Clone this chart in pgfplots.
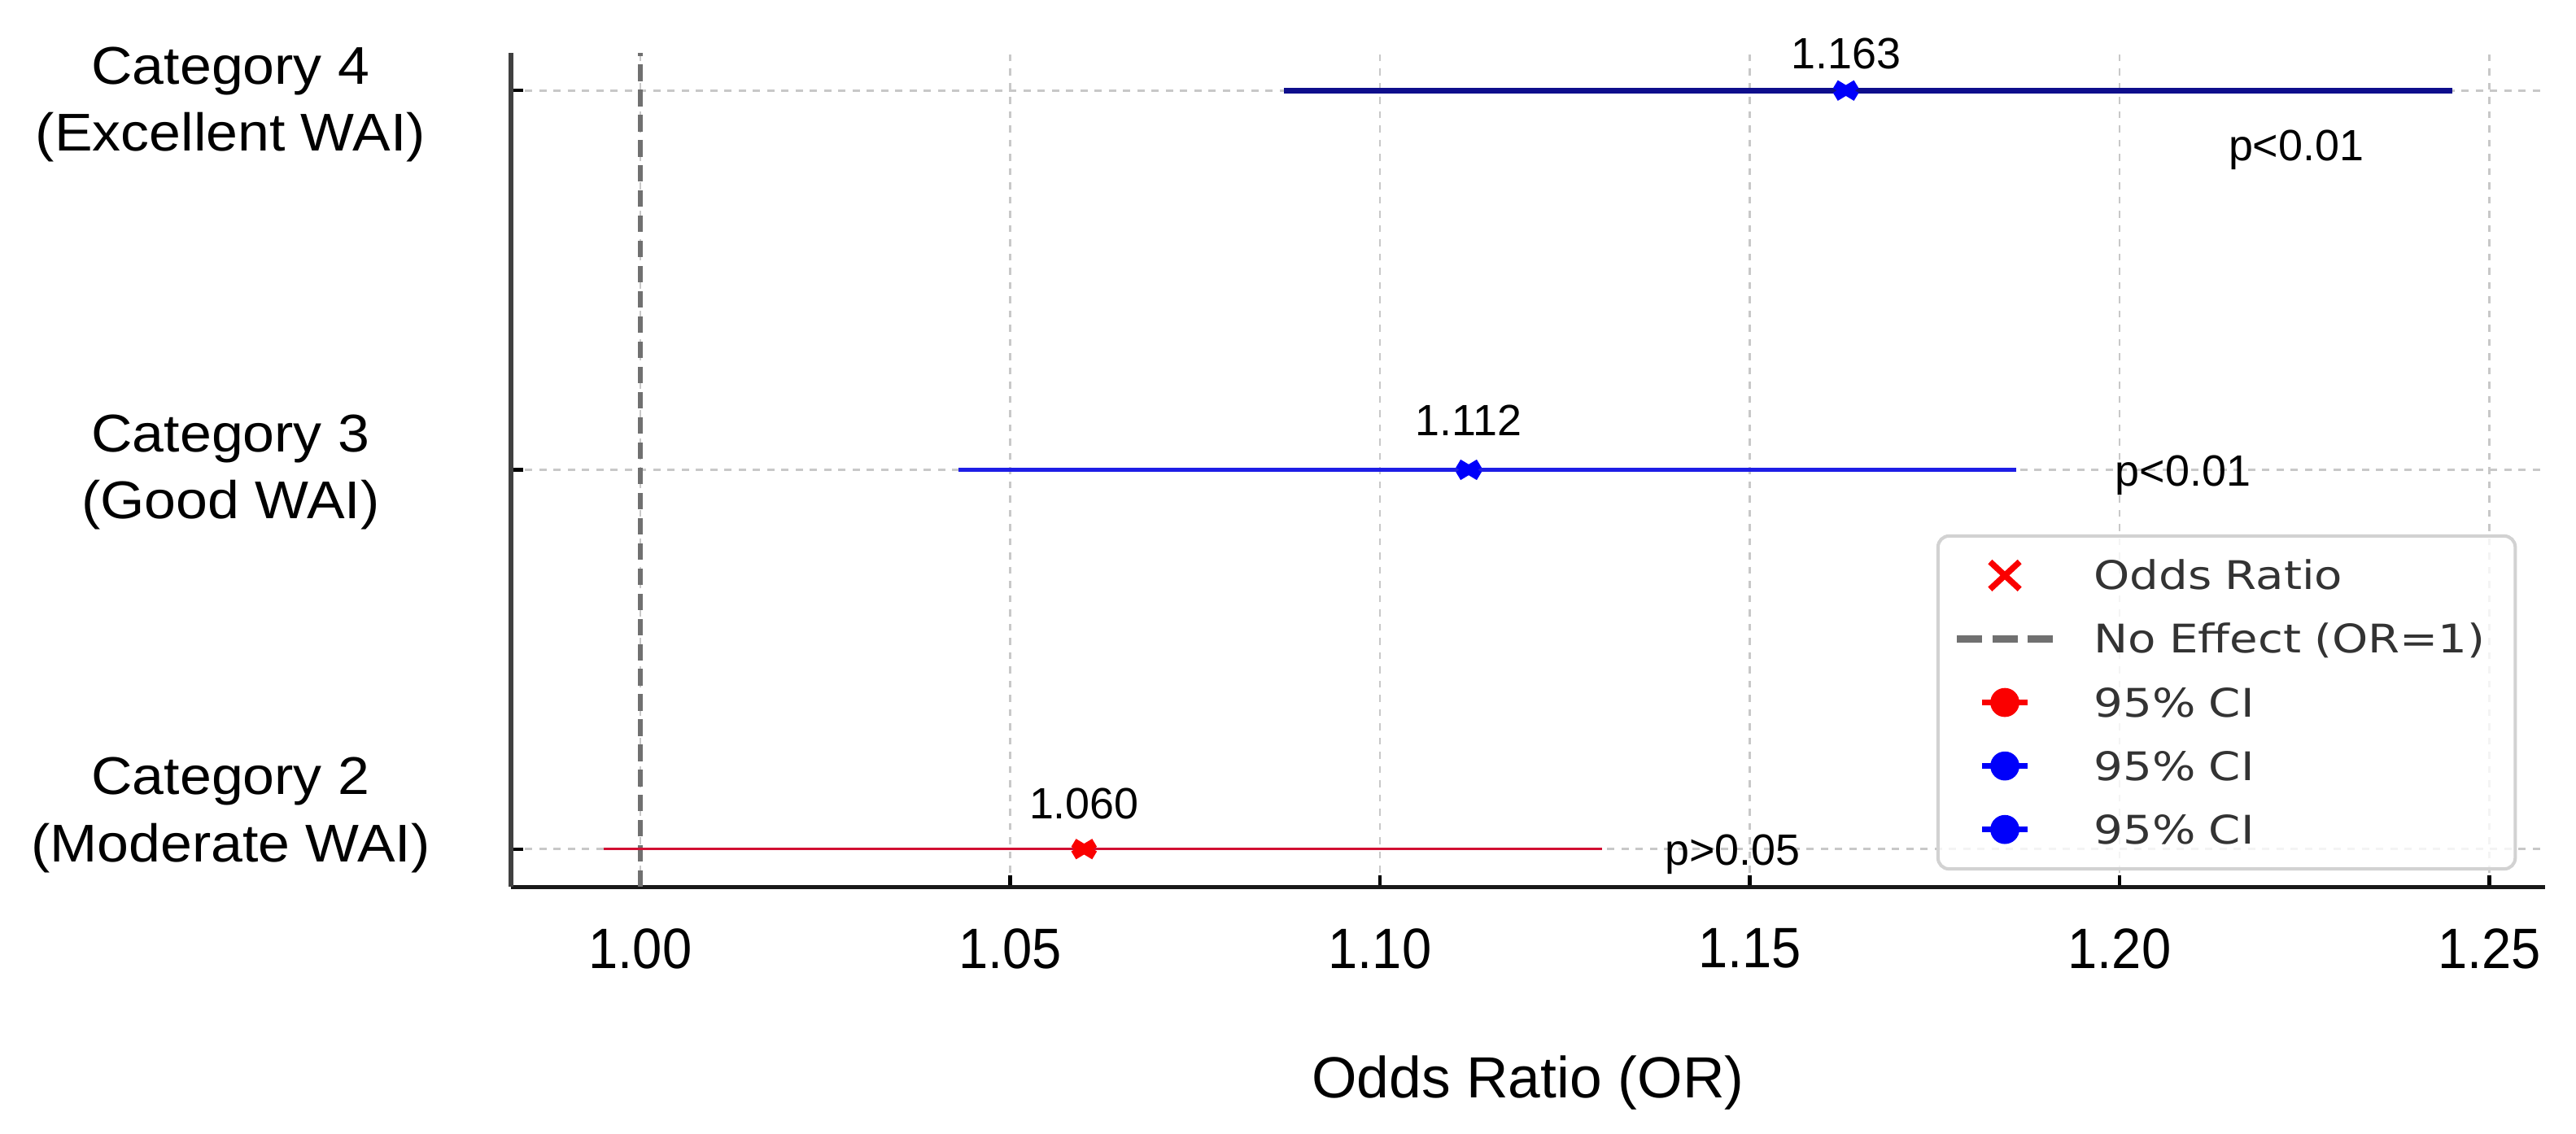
\documentclass[border=0pt]{standalone}
\usepackage{fontspec}
\setmainfont{Liberation Sans}
\newfontfamily\catfont[FakeStretch=1.07]{Liberation Sans}
\newfontfamily\legfont[FakeStretch=1.16]{DejaVu Sans}
\newfontfamily\tickfont[FakeStretch=0.93]{Liberation Sans}
\usepackage{pgfplots}
\pgfplotsset{compat=1.18}
\definecolor{cired}{RGB}{210,15,50}
\definecolor{ciblue}{RGB}{30,30,230}
\definecolor{cinavy}{RGB}{14,14,140}
\definecolor{mkred}{RGB}{250,0,0}
\definecolor{mkblue}{RGB}{0,0,250}
\definecolor{gridc}{RGB}{200,200,200}
\definecolor{refgray}{RGB}{112,112,112}
\begin{document}
\begin{tikzpicture}
\useasboundingbox (-93.3pt,-45pt) rectangle (377.1pt,162pt);
\begin{axis}[
  at={(0,0)}, anchor=south west,
  width=371.4pt, height=152.4pt, scale only axis,
  clip=false,
  xmin=0.9825, xmax=1.2575, ymin=-0.1, ymax=2.1,
  axis x line*=bottom, axis y line*=left,
  x axis line style={-, black!90, line width=0.8pt},
  y axis line style={-, black!75, line width=0.9pt},
  tick align=inside, major tick length=2.2pt,
  tick style={black, line width=0.6pt},
  xtick={1,1.05,1.1,1.15,1.2,1.25},
  xticklabels={1.00,1.05,1.10,1.15,1.20,1.25},
  xticklabel style={font=\tickfont\fontsize{10.4}{12}\selectfont, anchor=north, inner sep=0pt, yshift=-7.4pt},
  ytick={0,1,2},
  yticklabels={,,},
  grid=major,
  major grid style={gridc, line width=0.4pt, dash pattern=on 1.3pt off 1.3pt},
  every axis x label/.style={at={(axis description cs:0.5,0)}, anchor=north, yshift=-30.6pt, inner sep=0pt, font=\fontsize{10.6}{12}\selectfont},
  xlabel={Odds Ratio (OR)},
  legend cell align=left,
  legend style={at={(1,0)}, anchor=south east, xshift=-5.1pt, yshift=3pt,
    draw=gray!35, line width=0.6pt, rounded corners=2pt,
    fill=white, fill opacity=0.8, text opacity=1, draw opacity=1,
    inner xsep=2.9pt, inner ysep=3.8pt, row sep=4.8pt, column sep=7pt,
    font=\legfont\fontsize{7.2}{8}\selectfont, text=black!80,
    nodes={inner sep=0pt, text height=5.2pt, text depth=0pt, text width=74pt, align=left}},
]
% reference line OR = 1
\addplot[refgray, line width=0.8pt, dash pattern=on 3pt off 1.6pt, forget plot] coordinates {(1,-0.1) (1,2.1)};
% confidence intervals
\addplot[cired, line width=0.5pt, forget plot] coordinates {(0.995,0) (1.130,0)};
\addplot[ciblue, line width=0.8pt, forget plot] coordinates {(1.043,1) (1.186,1)};
\addplot[cinavy, line width=1.05pt, forget plot] coordinates {(1.087,2) (1.245,2)};
% odds ratios
\addplot[only marks, mark=x, mark size=2.7pt, color=mkred, mark options={yscale=0.6, line width=1.7pt}, forget plot] coordinates {(1.060,0)};
\addplot[only marks, mark=x, mark size=2.7pt, color=mkblue, mark options={yscale=0.6, line width=1.7pt}, forget plot] coordinates {(1.112,1) (1.163,2)};
% legend
\addlegendimage{legend image code/.code={%
  \path[draw=none, fill=none] (0pt,-3.4pt) rectangle (17.4pt,3.4pt);
  \draw[mkred, line width=1.1pt, sharp corners, solid] (6pt,-2.5pt) -- (11.4pt,2.5pt) (6pt,2.5pt) -- (11.4pt,-2.5pt);}}
\addlegendentry{Odds Ratio}
\addlegendimage{legend image code/.code={%
  \path[draw=none, fill=none] (0pt,-3.4pt) rectangle (17.4pt,3.4pt);
  \draw[refgray, line width=1.2pt, sharp corners, dash pattern=on 4.6pt off 1.8pt] (0pt,0pt) -- (17.4pt,0pt);}}
\addlegendentry{No Effect (OR=1)}
\addlegendimage{legend image code/.code={%
  \path[draw=none, fill=none] (0pt,-3.4pt) rectangle (17.4pt,3.4pt);
  \draw[mkred, line width=1pt, sharp corners, solid] (4.6pt,0pt) -- (12.8pt,0pt);
  \fill[mkred, fill opacity=1] (8.7pt,0pt) circle (2.35pt);}}
\addlegendentry{95\% CI}
\addlegendimage{legend image code/.code={%
  \path[draw=none, fill=none] (0pt,-3.4pt) rectangle (17.4pt,3.4pt);
  \draw[mkblue, line width=1pt, sharp corners, solid] (4.6pt,0pt) -- (12.8pt,0pt);
  \fill[mkblue, fill opacity=1] (8.7pt,0pt) circle (2.35pt);}}
\addlegendentry{95\% CI}
\addlegendimage{legend image code/.code={%
  \path[draw=none, fill=none] (0pt,-3.4pt) rectangle (17.4pt,3.4pt);
  \draw[mkblue, line width=1pt, sharp corners, solid] (4.6pt,0pt) -- (12.8pt,0pt);
  \fill[mkblue, fill opacity=1] (8.7pt,0pt) circle (2.35pt);}}
\addlegendentry{95\% CI}
% value annotations
\node[anchor=base, inner sep=0pt, font=\fontsize{8}{9}\selectfont, yshift=5.5pt] at (axis cs:1.060,0) {1.060};
\node[anchor=base, inner sep=0pt, font=\fontsize{8}{9}\selectfont, yshift=6.3pt] at (axis cs:1.112,1) {1.112};
\node[anchor=base, inner sep=0pt, font=\fontsize{8}{9}\selectfont, yshift=4pt] at (axis cs:1.163,2) {1.163};
% p-values
\node[anchor=base west, inner sep=0pt, font=\fontsize{8}{9}\selectfont, yshift=-3pt] at (axis cs:1.1384,0) {p>0.05};
\node[anchor=base west, inner sep=0pt, font=\fontsize{8}{9}\selectfont, yshift=-2.9pt] at (axis cs:1.1993,1) {p<0.01};
\node[anchor=base west, inner sep=0pt, font=\fontsize{8}{9}\selectfont, yshift=-12.75pt] at (axis cs:1.2146,2) {p<0.01};
% category labels
\node[align=center, anchor=center, inner sep=0pt, font=\catfont\fontsize{9.7}{12.2}\selectfont, xshift=-51.2pt, yshift=-2.6pt] at (axis cs:0.9825,2) {Category 4\\(Excellent WAI)};
\node[align=center, anchor=center, inner sep=0pt, font=\catfont\fontsize{9.7}{12.2}\selectfont, xshift=-51.2pt, yshift=-0.4pt] at (axis cs:0.9825,1) {Category 3\\(Good WAI)};
\node[align=center, anchor=center, inner sep=0pt, font=\catfont\fontsize{9.7}{12.2}\selectfont, xshift=-51.2pt, yshift=6.2pt] at (axis cs:0.9825,0) {Category 2\\(Moderate WAI)};
\end{axis}
\end{tikzpicture}
\end{document}
